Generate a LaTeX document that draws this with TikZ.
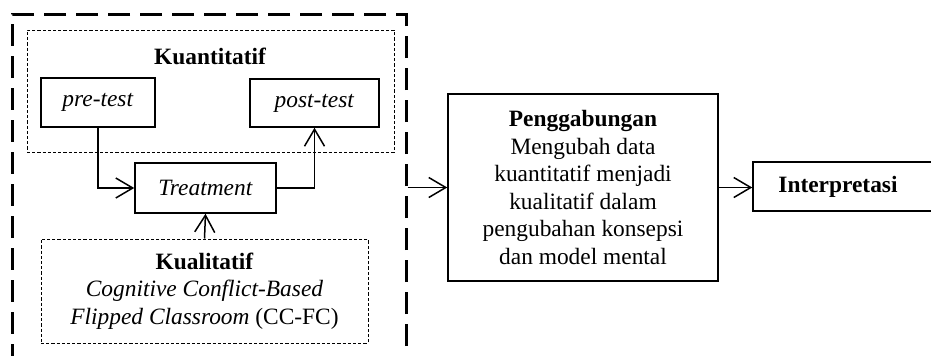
\documentclass[tikz,border=0pt]{standalone}
\usepackage{fontspec}
\setmainfont{Liberation Serif}
\usetikzlibrary{arrows.meta}
\begin{document}
\begin{tikzpicture}[x=0.5pt,y=-0.5pt,
  font=\fontsize{11.7}{13.8}\selectfont,
  box/.style={draw, line width=0.75pt, inner sep=0pt, align=center},
  group/.style={draw, line width=0.5pt, dash pattern=on 1.6pt off 1pt, inner sep=0pt, align=center},
  frame/.style={draw, line width=1.5pt, dash pattern=on 11pt off 5pt, inner sep=0pt},
  link/.style={line width=0.75pt, -{Straight Barb[length=8.5pt,width=10pt,line width=0.75pt]}}]
\useasboundingbox (0,0) rectangle (931,355);
\clip (0,0) rectangle (931,355);

% outer frame (runs past the lower edge)
\node[frame, minimum width=197pt, minimum height=193pt] (outer) at (209,207) {};

% quantitative group
\node[group, minimum width=183.5pt, minimum height=61pt] (kuant) at (210.5,91) {};
\node[font=\fontsize{11.7}{13.8}\selectfont\bfseries] (kuanttitle) at (210,56) {Kuantitatif};
\node[box, minimum width=57pt, minimum height=24.5pt] (pre) at (98,102.5) {\textit{pre-test}};
\node[box, minimum width=64.5pt, minimum height=24pt] (post) at (314.5,103) {\textit{post-test}};

% treatment
\node[box, minimum width=70.5pt, minimum height=25pt] (treat) at (205.5,188) {\textit{Treatment}};

% qualitative group
\node[group, minimum width=163.5pt, minimum height=52pt] (kual) at (204.5,291)
  {\textbf{Kualitatif}\\ \textit{Cognitive Conflict-Based}\\ \textit{Flipped Classroom} (CC-FC)};

% merging and interpretation
\node[box, minimum width=135pt, minimum height=93.5pt] (peng) at (583,187.5)
  {\textbf{Penggabungan}\\ Mengubah data\\ kuantitatif menjadi\\ kualitatif dalam\\ pengubahan konsepsi\\ dan model mental};
\node[box, minimum width=91pt, minimum height=24.5pt] (interp) at (844,186.5)
  {\textbf{Interpretasi}\hspace{6pt}};

% connectors
\draw[link] (pre.south) |- (treat.west);
\draw[link] (treat.east) -| (post.south);
\draw[link] (kual.north) -- (treat.south);
\draw[link] (outer.east |- peng.west) -- (peng.west);
\draw[link] (peng.east) -- (peng.east -| interp.west);
\end{tikzpicture}
\end{document}
